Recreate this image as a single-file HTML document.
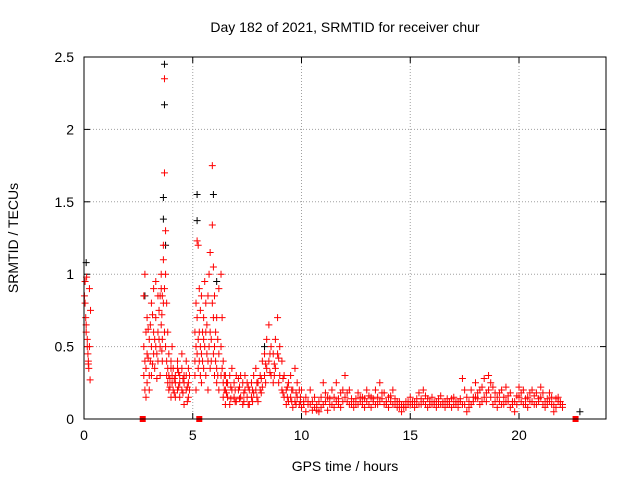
<!DOCTYPE html>
<html><head><meta charset="utf-8"><style>
html,body{margin:0;padding:0;background:#fff;}
svg{display:block;font-family:"Liberation Sans",sans-serif;}
</style></head><body>
<svg id="chart" width="640" height="480" viewBox="0 0 640 480">
<text x="345" y="32" font-size="14" text-anchor="middle">Day 182 of 2021, SRMTID for receiver chur</text>
<text transform="translate(18,238) rotate(-90)" font-size="14" text-anchor="middle">SRMTID / TECUs</text>
<text x="345" y="471" font-size="14" text-anchor="middle">GPS time / hours</text>
<g id="grid"></g>
<g id="ticks"></g>
<g id="marks"></g>
<rect x="84" y="57" width="522" height="362" fill="none" stroke="#000" stroke-width="1"/>
</svg>
<script>
const xTicks = [0,5,10,15,20];
const yTicks = [0,0.5,1,1.5,2,2.5];
const yTickLabels = ["0","0.5","1","1.5","2","2.5"];
const redGroups = [
[0.02,[0.85]],[0.05,[0.95,0.8]],[0.08,[0.7]],[0.1,[0.6,0.65]],[0.12,[0.98]],[0.15,[0.5,0.55]],[0.18,[0.45]],[0.2,[0.4,0.38]],[0.22,[0.35]],[0.25,[0.9,0.5]],[0.28,[0.27]],[0.3,[0.75]],
[2.75,[0.3,0.5,0.85]],[2.8,[0.2,0.4,1.0]],[2.85,[0.15,0.35,0.6]],[2.9,[0.25,0.45,0.7]],[3.0,[0.3,0.55,0.2]],[3.05,[0.4,0.65]],[3.1,[0.5,0.3,0.8]],[3.2,[0.6,0.45,0.9]],[3.25,[0.35,0.55]],[3.3,[0.7,0.5,0.95]],[3.4,[0.6,0.85,0.4]],[3.45,[0.55,0.75]],[3.5,[0.85,0.5,0.3]],[3.55,[0.9,0.65,1.0]],[3.6,[0.85,0.55,0.4]],[3.65,[1.1,1.2,0.8]],[3.7,[2.35,1.7,0.9,0.6]],[3.75,[1.3,1.0,0.5]],[3.8,[0.8,0.4,0.3]],[3.85,[0.6,0.35,0.25]],[3.9,[0.45,0.2,0.3]],[4.0,[0.35,0.15,0.4]],[4.05,[0.25,0.3,0.5]],[4.1,[0.2,0.35]],[4.2,[0.3,0.15,0.25]],[4.3,[0.4,0.2,0.35]],[4.4,[0.25,0.3,0.15]],[4.5,[0.35,0.2,0.45]],[4.6,[0.3,0.25,0.1]],[4.7,[0.2,0.4,0.3]],[4.8,[0.25,0.15,0.35]],[4.85,[0.3,0.2]],
[5.1,[0.4,0.6,0.3]],[5.15,[0.5,0.8,0.2]],[5.2,[1.23,0.7,0.45]],[5.25,[1.2,0.55,0.35]],[5.3,[0.9,0.4,0.6]],[5.35,[0.75,0.5,0.3]],[5.4,[0.85,0.45,0.25]],[5.5,[0.7,0.35,0.55]],[5.55,[0.95,0.5]],[5.6,[0.8,0.3,0.6]],[5.7,[0.85,0.4,0.2]],[5.75,[1.0,0.5]],[5.8,[1.15,0.6,0.35]],[5.9,[1.75,1.34,0.8]],[5.95,[1.05,0.7,0.45]],[6.0,[0.85,0.5,0.3]],[6.05,[0.6,0.4]],[6.1,[0.7,0.35,0.25]],[6.2,[0.9,0.45,0.2]],[6.3,[1.0,0.5,0.3]],[6.35,[0.7,0.35]],[6.4,[0.4,0.25,0.15]],
[6.5,[0.3,0.2,0.1]],[6.6,[0.25,0.15]],[6.7,[0.3,0.1]],[6.8,[0.2,0.35]],[6.9,[0.15,0.25]],[7.0,[0.3,0.12]],[7.1,[0.2,0.28]],[7.2,[0.15,0.3]],[7.3,[0.25,0.1]],[7.4,[0.2,0.3]],[7.5,[0.15,0.25]],[7.6,[0.1,0.2]],[7.7,[0.25,0.15]],[7.8,[0.3,0.18]],[7.9,[0.2,0.35]],[8.0,[0.25,0.12]],[8.1,[0.3,0.2]],[8.2,[0.4,0.22]],[8.3,[0.45,0.3]],[8.4,[0.55,0.35]],[8.5,[0.65,0.4]],[8.6,[0.5,0.3]],[8.7,[0.45,0.25]],[8.8,[0.55,0.35]],[8.9,[0.7,0.45]],[9.0,[0.5,0.3]],[9.1,[0.4,0.2]],[9.2,[0.3,0.15]],[9.3,[0.2,0.1]],[9.4,[0.25,0.12]],[9.5,[0.15,0.3]],[9.6,[0.2,0.08]],[9.7,[0.35,0.12]],[9.8,[0.15,0.25]],[9.9,[0.1,0.2]],[10.0,[0.2,0.08]],[10.2,[0.15,0.05]],[10.4,[0.1,0.2]],[10.6,[0.08,0.15]],[10.8,[0.05,0.12]],[11.0,[0.1,0.25]],[11.2,[0.15,0.06]],[11.4,[0.2,0.1]],[11.6,[0.12,0.25]],[11.8,[0.08,0.18]],[12.0,[0.15,0.3]],[12.2,[0.1,0.2]],[12.4,[0.12,0.08]],[12.6,[0.18,0.1]],[12.8,[0.1,0.15]],[13.0,[0.12,0.2]],[13.2,[0.08,0.15]],[13.4,[0.2,0.1]],[13.6,[0.12,0.25]],[13.8,[0.1,0.18]],[14.0,[0.15,0.08]],[14.2,[0.1,0.2]],[14.4,[0.08,0.12]],[14.6,[0.1,0.05]],[14.8,[0.12,0.08]],[15.0,[0.1,0.15]],[15.2,[0.08,0.12]],[15.4,[0.1,0.18]],[15.6,[0.12,0.2]],[15.8,[0.08,0.14]],[16.0,[0.1,0.15]],[16.2,[0.12,0.08]],[16.4,[0.1,0.16]],[16.6,[0.08,0.12]],[16.8,[0.12,0.1]],[17.0,[0.1,0.15]],[17.2,[0.08,0.12]],[17.4,[0.1,0.28]],[17.6,[0.05,0.15]],[17.8,[0.1,0.2]],[18.0,[0.15,0.25]],[18.2,[0.1,0.2]],[18.4,[0.15,0.28]],[18.6,[0.2,0.3]],[18.8,[0.1,0.22]],[19.0,[0.15,0.08]],[19.2,[0.2,0.1]],[19.4,[0.12,0.22]],[19.6,[0.08,0.18]],[19.8,[0.12,0.05]],[20.0,[0.15,0.22]],[20.2,[0.1,0.2]],[20.4,[0.08,0.15]],[20.6,[0.12,0.2]],[20.8,[0.1,0.18]],[21.0,[0.15,0.22]],[21.2,[0.08,0.12]],[21.4,[0.12,0.18]],[21.6,[0.1,0.05]],[21.8,[0.12,0.15]],[22.0,[0.1,0.08]]
];
const redGroupsExtra = [
[2.95,[0.42,0.62]],[3.15,[0.38,0.72]],[3.35,[0.45,0.28]],[3.58,[0.72,0.47]],[3.95,[0.28,0.22]],[4.15,[0.28,0.18]],[4.35,[0.22,0.32]],[4.55,[0.18,0.28]],[4.75,[0.22,0.12]],
[5.45,[0.6,0.4]],[5.65,[0.65,0.45]],[5.85,[0.55,0.4]],[6.15,[0.55,0.3]],[6.45,[0.3,0.2]],
[6.55,[0.18,0.25]],[6.75,[0.22,0.14]],[6.95,[0.2,0.12]],[7.15,[0.14,0.22]],[7.35,[0.18,0.12]],[7.55,[0.22,0.1]],[7.75,[0.2,0.12]],[7.95,[0.15,0.25]],[8.15,[0.28,0.18]],[8.35,[0.38,0.25]],[8.55,[0.45,0.32]],[8.75,[0.38,0.3]],[8.95,[0.42,0.25]],[9.15,[0.28,0.18]],[9.35,[0.15,0.22]],[9.55,[0.12,0.2]],[9.75,[0.18,0.1]],[9.95,[0.15,0.12]],
[10.1,[0.12,0.1]],[10.3,[0.1,0.12]],[10.5,[0.06,0.12]],[10.7,[0.1,0.06]],[10.9,[0.08,0.15]],[11.1,[0.12,0.18]],[11.3,[0.1,0.14]],[11.5,[0.15,0.08]],[11.7,[0.1,0.14]],[11.9,[0.12,0.2]],[12.1,[0.18,0.12]],[12.3,[0.14,0.1]],[12.5,[0.1,0.14]],[12.7,[0.12,0.15]],[12.9,[0.14,0.08]],[13.1,[0.1,0.16]],[13.3,[0.12,0.14]],[13.5,[0.15,0.1]],[13.7,[0.14,0.18]],[13.9,[0.12,0.1]],[14.1,[0.12,0.16]],[14.3,[0.1,0.14]],[14.5,[0.12,0.08]],[14.7,[0.08,0.1]],[14.9,[0.1,0.12]],[15.1,[0.12,0.1]],[15.3,[0.1,0.14]],[15.5,[0.14,0.1]],[15.7,[0.1,0.16]],[15.9,[0.12,0.1]],[16.1,[0.1,0.12]],[16.3,[0.14,0.1]],[16.5,[0.12,0.1]],[16.7,[0.1,0.14]],[16.9,[0.14,0.08]],[17.1,[0.12,0.1]],[17.3,[0.12,0.14]],[17.5,[0.1,0.2]],[17.7,[0.12,0.08]],[17.9,[0.15,0.12]],[18.1,[0.18,0.14]],[18.3,[0.12,0.22]],[18.5,[0.18,0.12]],[18.7,[0.15,0.25]],[18.9,[0.18,0.12]],[19.1,[0.12,0.18]],[19.3,[0.15,0.1]],[19.5,[0.16,0.12]],[19.7,[0.12,0.1]],[19.9,[0.1,0.16]],[20.1,[0.18,0.12]],[20.3,[0.14,0.1]],[20.5,[0.12,0.18]],[20.7,[0.16,0.1]],[20.9,[0.12,0.14]],[21.1,[0.18,0.1]],[21.3,[0.14,0.1]],[21.5,[0.1,0.15]],[21.7,[0.14,0.08]],[21.9,[0.1,0.12]]
];
const blackPoints = [[0.1,1.08],[3.7,2.45],[3.7,2.17],[3.65,1.53],[3.65,1.38],[3.75,1.2],[5.2,1.55],[5.2,1.37],[5.95,1.55],[2.8,0.85],[6.1,0.95],[8.3,0.5],[22.8,0.05]];
const squarePoints = [[2.7,0],[5.3,0],[22.6,0]];

const X0=84,X1=606,Y0=419,Y1=57,XMAX=24,YMAX=2.5;
const xs=t=>X0+(X1-X0)*t/XMAX;
const ys=v=>Y0-(Y0-Y1)*v/YMAX;
const NS="http://www.w3.org/2000/svg";
function mk(tag,attrs,parent){const e=document.createElementNS(NS,tag);for(const k in attrs)e.setAttribute(k,attrs[k]);parent.appendChild(e);return e;}
const grid=document.getElementById('grid'),ticks=document.getElementById('ticks'),marks=document.getElementById('marks');
xTicks.forEach(t=>{
  const x=xs(t);
  if(t>0){const g=mk('line',{x1:x,x2:x,y1:Y1,y2:Y0,stroke:'#a0a0a0','stroke-dasharray':'1,2'},grid);
  
  }
  mk('line',{x1:x,x2:x,y1:Y0,y2:Y0-6,stroke:'#000'},ticks);
  mk('line',{x1:x,x2:x,y1:Y1,y2:Y1+6,stroke:'#000'},ticks);
  const l=mk('text',{x:x,y:Y0+21,'font-size':14,'text-anchor':'middle'},ticks);l.textContent=t;
  
  
});
yTicks.forEach((v,i)=>{
  const y=ys(v);
  if(v>0&&v<YMAX){const g=mk('line',{x1:X0,x2:X1,y1:y,y2:y,stroke:'#a0a0a0','stroke-dasharray':'1,2'},grid);
  
  }
  mk('line',{x1:X0,x2:X0+6,y1:y,y2:y,stroke:'#000'},ticks);
  mk('line',{x1:X1,x2:X1-6,y1:y,y2:y,stroke:'#000'},ticks);
  const l=mk('text',{x:X0-10,y:y+5,'font-size':14,'text-anchor':'end'},ticks);l.textContent=yTickLabels[i];
  
  
});
function plus(t,v,color,name){
  const x=xs(t),y=ys(v);
  const p=mk('path',{d:`M${x-3.5},${y}H${x+3.5}M${x},${y-3.5}V${y+3.5}`,stroke:color,'stroke-width':1,fill:'none'},marks);
  
  
}
blackPoints.forEach(p=>plus(p[0],p[1],'#000','black-point'));
redGroups.forEach(g=>g[1].forEach(v=>plus(g[0],v,'#ff0000','red-point')));
redGroupsExtra.forEach(g=>g[1].forEach(v=>plus(g[0],v,'#ff0000','red-point')));
squarePoints.forEach(p=>{
  const r=mk('rect',{x:xs(p[0])-3,y:ys(p[1])-3,width:6,height:6,fill:'#ff0000'},marks);
  
  
});
</script>
</body></html>
